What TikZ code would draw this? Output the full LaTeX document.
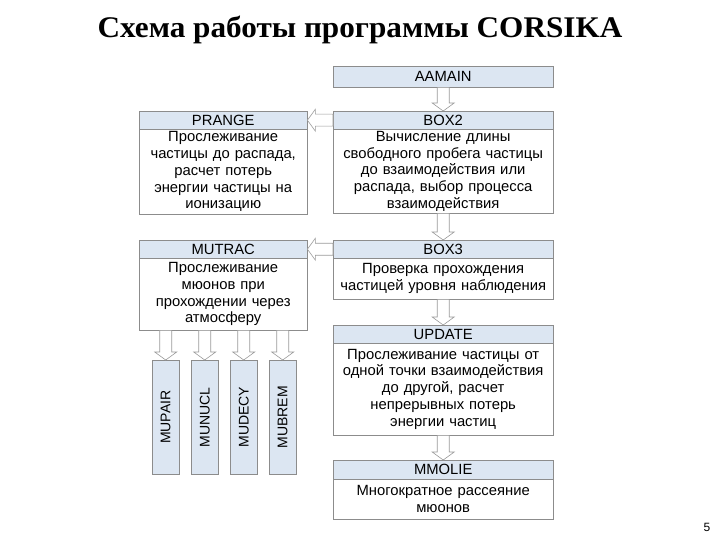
\documentclass[tikz,border=0pt]{standalone}
\usepackage{fontspec}
\setmainfont{Liberation Sans}
\newfontfamily\titlefont{Liberation Serif}
\usetikzlibrary{calc}
\definecolor{hdr}{HTML}{DCE6F2}
\definecolor{brd}{HTML}{8C8C8C}
\definecolor{arr}{HTML}{9A9A9A}
\tikzset{
  hdrbox/.style={draw=brd, fill=hdr, anchor=north west, inner sep=0pt, font=\fontsize{14.8}{16.8}\selectfont},
  bodybox/.style={draw=brd, fill=white, anchor=north west, inner sep=0pt, align=center, font=\fontsize{14.8}{16.8}\selectfont},
  vbox/.style={draw=brd, fill=hdr, anchor=north west, inner sep=0pt, minimum width=27pt, minimum height=114pt},
  vlabel/.style={rotate=90, font=\fontsize{14}{17}\selectfont},
  blockarrow/.style={draw=arr, fill=white, line width=0.6pt, line join=miter}
}
\newcommand\downarrowblock[2]{%
  \path[blockarrow] let \p1=(#1), \p2=(#2) in
    (\x1-6pt,\y1) -- (\x1-6pt,\y2+8pt) -- (\x1-11pt,\y2+8pt) -- (\x1,\y2)
    -- (\x1+11pt,\y2+8pt) -- (\x1+6pt,\y2+8pt) -- (\x1+6pt,\y1) -- cycle;}
\newcommand\leftarrowblock[2]{%
  \path[blockarrow] let \p1=(#1), \p2=(#2) in
    (\x1,\y1-6pt) -- (\x2+8pt,\y1-6pt) -- (\x2+8pt,\y1-11pt) -- (\x2,\y1)
    -- (\x2+8pt,\y1+11pt) -- (\x2+8pt,\y1+6pt) -- (\x1,\y1+6pt) -- cycle;}
\begin{document}
\begin{tikzpicture}[x=1pt,y=-1pt]
\useasboundingbox (0,0) rectangle (720,540);
\fill[white] (0,0) rectangle (720,540);

\node[font=\titlefont\bfseries\fontsize{30}{33}\selectfont, xscale=1.04] (title) at (360,30) {Схема работы программы CORSIKA};

% main column
\node[hdrbox, minimum width=220pt, minimum height=21pt] (aamain) at (333,66) {AAMAIN};
\node[hdrbox, minimum width=220pt, minimum height=18pt] (box2h) at (333,111) {BOX2};
\node[bodybox, text width=220pt, minimum height=84pt] (box2) at (333,129)
  {Вычисление длины\\свободного пробега частицы\\до взаимодействия или\\распада, выбор процесса\\взаимодействия};
\node[hdrbox, minimum width=220pt, minimum height=18pt] (box3h) at (333,240) {BOX3};
\node[bodybox, text width=220pt, minimum height=41pt] (box3) at (333,258)
  {Проверка прохождения\\частицей уровня наблюдения};
\node[hdrbox, minimum width=220pt, minimum height=18pt] (updateh) at (333,325) {UPDATE};
\node[bodybox, text width=220pt, minimum height=92pt] (update) at (333,343)
  {Прослеживание частицы от\\одной точки взаимодействия\\до другой, расчет\\непрерывных потерь\\энергии частиц};
\node[hdrbox, minimum width=220pt, minimum height=19pt] (mmolieh) at (333,460) {MMOLIE};
\node[bodybox, text width=220pt, minimum height=40pt] (mmolie) at (333,479)
  {Многократное рассеяние\\мюонов};

% left column
\node[hdrbox, minimum width=168pt, minimum height=18pt] (prangeh) at (139,111) {PRANGE};
\node[bodybox, text width=168pt, minimum height=85pt] (prange) at (139,129)
  {Прослеживание\\частицы до распада,\\расчет потерь\\энергии частицы на\\ионизацию};
\node[hdrbox, minimum width=168pt, minimum height=18pt] (mutrach) at (139,240) {MUTRAC};
\node[bodybox, text width=168pt, minimum height=72pt] (mutrac) at (139,258)
  {Прослеживание\\мюонов при\\прохождении через\\атмосферу};

% vertical boxes
\node[vbox] (mupair) at (152,360) {};
\node[vbox] (munucl) at (191,360) {};
\node[vbox] (mudecy) at (230,360) {};
\node[vbox] (mubrem) at (269,360) {};
\node[vlabel] at (mupair.center) {MUPAIR};
\node[vlabel] at (munucl.center) {MUNUCL};
\node[vlabel] at (mudecy.center) {MUDECY};
\node[vlabel] at (mubrem.center) {MUBREM};

% arrows
\downarrowblock{aamain.south}{box2h.north}
\downarrowblock{box2.south}{box3h.north}
\downarrowblock{box3.south}{updateh.north}
\downarrowblock{update.south}{mmolieh.north}
\leftarrowblock{box2h.west}{prangeh.east}
\leftarrowblock{box3h.west}{mutrach.east}
\downarrowblock{mupair.north |- mutrac.south}{mupair.north}
\downarrowblock{munucl.north |- mutrac.south}{munucl.north}
\downarrowblock{mudecy.north |- mutrac.south}{mudecy.north}
\downarrowblock{mubrem.north |- mutrac.south}{mubrem.north}

\node[font=\fontsize{12}{14}\selectfont] (page) at (707,527) {5};
\end{tikzpicture}
\end{document}
